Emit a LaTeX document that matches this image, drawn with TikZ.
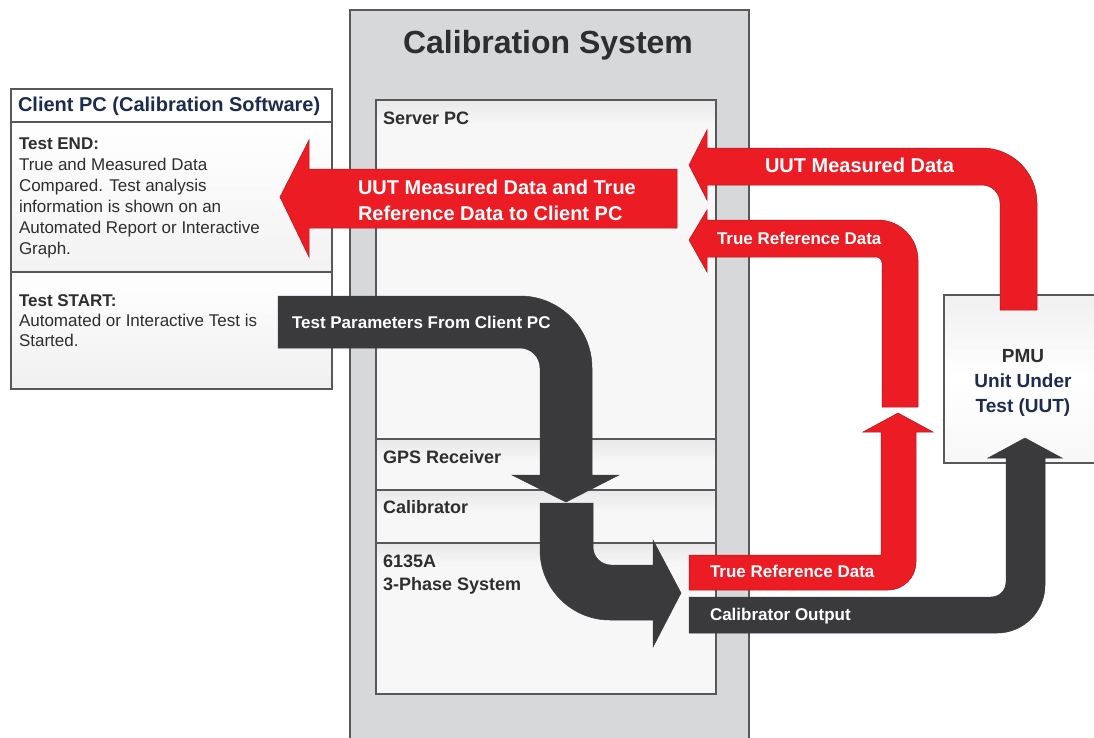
\documentclass[tikz,border=0pt]{standalone}
\usepackage{fontspec}
\setmainfont{Liberation Sans}
\definecolor{arrowred}{HTML}{EC1C24}
\definecolor{arrowdark}{HTML}{3A393B}
\definecolor{calgray}{HTML}{D7D8DA}
\definecolor{lineg}{HTML}{58585A}
\definecolor{txtdark}{HTML}{2E2E2E}
\definecolor{navy}{HTML}{1C2B4E}
\newcommand{\fsz}[2]{\fontsize{#1}{#2}\selectfont}
\tikzset{
  boxline/.style={draw=lineg, line width=1.6},
  redarrow/.style={fill=arrowred, draw=arrowred!75!black, line width=0.5},
  darkarrow/.style={fill=arrowdark, draw=arrowdark, line width=0.5},
  lbl/.style={inner sep=0pt, outer sep=0pt},
  seclbl/.style={lbl, anchor=base west, text=txtdark, font=\fsz{18}{23}\bfseries, align=left},
  arrlbl/.style={lbl, anchor=base west, text=white, font=\fsz{17}{21}\bfseries},
  band/.style={top color=gray!18, bottom color=white!97!black, draw=none},
}
\begin{document}
\begin{tikzpicture}[x=1pt,y=-1pt]
\useasboundingbox (0,0) rectangle (1094,737);
\clip (0,0) rectangle (1094,737);
\fill[white] (0,0) rectangle (1094,737);

% Calibration system
\draw[boxline, fill=calgray, line width=2] (350,10) rectangle (749,770);
% Server PC sections
\fill[white!97!black] (376,100) rectangle (716,694);
\shade[band] (376,100) rectangle (716,124);
\shade[band] (376,439) rectangle (716,462);
\shade[band] (376,490) rectangle (716,512);
\shade[band] (376,543) rectangle (716,565);
\draw[boxline, line width=1.3] (376,439) -- (716,439);
\draw[boxline, line width=1.3] (376,490) -- (716,490);
\draw[boxline, line width=1.3] (376,543) -- (716,543);
\draw[boxline, line width=2] (376,100) rectangle (716,694);

% Client PC box
\fill[white] (11,89) rectangle (332,122);
\shade[top color=white, bottom color=gray!10] (11,122) rectangle (332,272);
\shade[top color=white, bottom color=gray!12] (11,272) rectangle (332,389);
\draw[boxline, line width=1.2] (11,122) -- (332,122);
\draw[boxline, line width=1.2] (11,272) -- (332,272);
\draw[boxline] (11,89) rectangle (332,389);

% PMU box
\shade[top color=gray!12, bottom color=gray!6, middle color=white] (944,295) rectangle (1100,463);
\draw[boxline] (1100,295) -- (944,295) -- (944,463) -- (1100,463);

% Arrows
\filldraw[redarrow] (280,197) -- (309,140) -- (309,169) -- (677,169) -- (677,228) -- (309,228) -- (309,257) -- cycle;
\filldraw[redarrow] (689,165) -- (707,130) -- (707,148) -- (982,148) .. controls (1012.4,148) and (1037,172.6) .. (1037,203) -- (1037,310) -- (1000,310) -- (1000,203) .. controls (1000,193.1) and (991.9,185) .. (982,185) -- (707,185) -- (707,200) -- cycle;
\filldraw[redarrow] (689,240) -- (707,210) -- (707,220) -- (878,220) .. controls (900,220) and (918,238) .. (918,260) -- (918,407) -- (882,407) -- (882,263) .. controls (882,259.7) and (879.3,257) .. (876,257) -- (707,257) -- (707,272) -- cycle;
\filldraw[redarrow] (689,555) -- (881,555) -- (881,432) -- (863,432) -- (898,413) -- (933,432) -- (916,432) -- (916,562) .. controls (916,577.5) and (903.5,590) .. (888,590) -- (689,590) -- cycle;
\filldraw[darkarrow] (689,597) -- (991,597) .. controls (999.3,597) and (1006,590.3) .. (1006,582) -- (1006,458) -- (988,458) -- (1025,438) -- (1062,458) -- (1045,458) -- (1045,585) .. controls (1045,611.5) and (1023.5,633) .. (997,633) -- (689,633) -- cycle;
\filldraw[darkarrow] (278,296) -- (520,296) .. controls (559.7,296) and (592,328.3) .. (592,368) -- (592,475) -- (619,475) -- (566,502) -- (512,475) -- (540,475) -- (540,368) .. controls (540,357) and (531,348) .. (520,348) -- (278,348) -- cycle;
\filldraw[darkarrow] (540,503) -- (593,503) -- (593,547) .. controls (593,556.9) and (601.1,565) .. (611,565) -- (653,565) -- (653,540) -- (681,593) -- (653,647) -- (653,620) -- (610,620) .. controls (571.4,620) and (540,588.6) .. (540,550) -- cycle;

% Texts (multi-line nodes: base anchor = baseline of last line)
\node[lbl, anchor=base, text=txtdark, font=\fsz{32}{40}\bfseries] (caltitle) at (548,53) {Calibration System};
\node[lbl, anchor=base west, text=navy, font=\fsz{20}{24}\bfseries] (clienttitle) at (18,111) {Client PC (Calibration Software)};
\node[lbl, anchor=base west, text=txtdark, font=\fsz{17}{21}, align=left] (testend) at (19,254) {\textbf{Test END:}\\True and Measured Data\\Compared. Test analysis\\information is shown on an\\Automated Report or Interactive\\Graph.};
\node[lbl, anchor=base west, text=txtdark, font=\fsz{17}{20}, align=left] (teststart) at (19,346) {\textbf{Test START:}\\Automated or Interactive Test is\\Started.};

\node[seclbl] (serverpc) at (383,124) {Server PC};
\node[seclbl] (gps) at (383,463) {GPS Receiver};
\node[seclbl] (calibrator) at (383,513) {Calibrator};
\node[seclbl] (phase) at (383,590) {6135A\\3-Phase System};

\node[lbl, anchor=base west, text=white, font=\fsz{20}{26}\bfseries, align=left] (bigred) at (358,220) {UUT Measured Data and True\\Reference Data to Client PC};
\node[lbl, anchor=base west, text=white, font=\fsz{20}{24}\bfseries] (uutmeas) at (765,172) {UUT Measured Data};
\node[arrlbl] (trueref1) at (717,244) {True Reference Data};
\node[arrlbl] (testpar) at (292,328) {Test Parameters From Client PC};
\node[arrlbl] (trueref2) at (710,577) {True Reference Data};
\node[arrlbl] (calout) at (710,620) {Calibrator Output};

\node[lbl, anchor=base, text=txtdark, font=\fsz{19}{25}\bfseries, align=center] (pmu) at (1023,412) {PMU\\{\color{navy}Unit Under}\\{\color{navy}Test (UUT)}};
\end{tikzpicture}
\end{document}
